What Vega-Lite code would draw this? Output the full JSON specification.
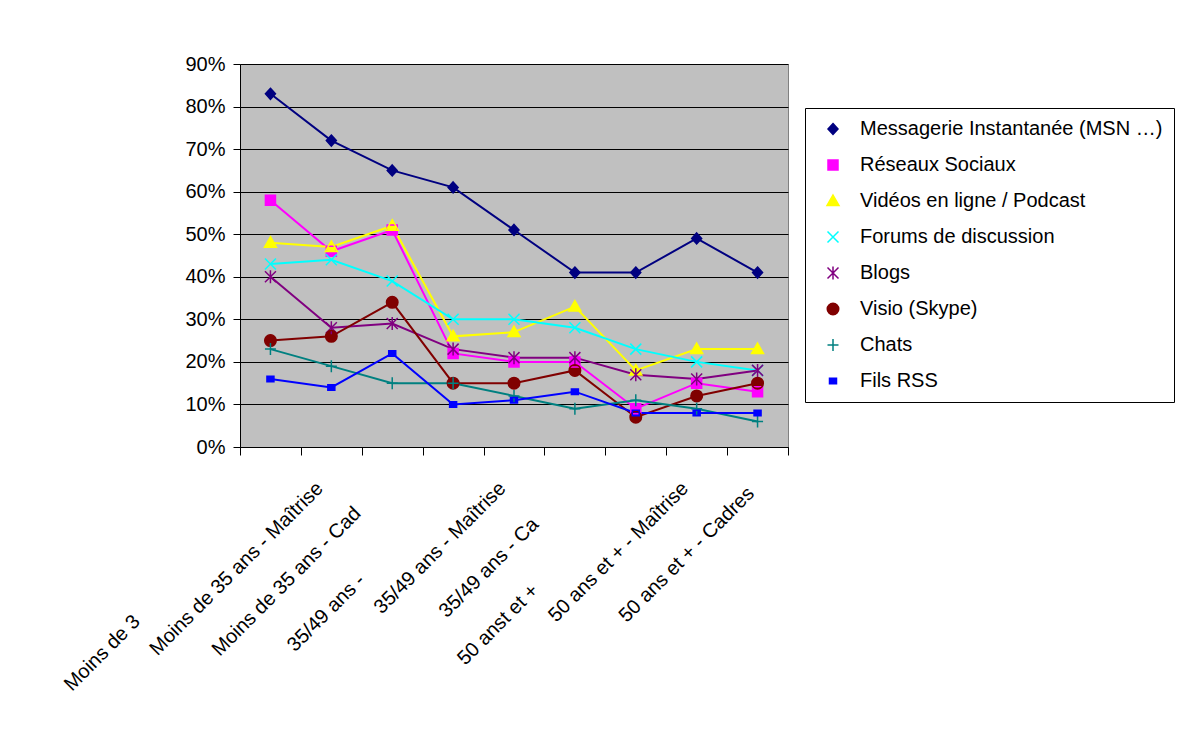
{
  "$schema": "https://vega.github.io/schema/vega-lite/v6.json",
  "autosize": {"type": "none"},
  "width": 548,
  "height": 383,
  "padding": {"left": 240, "top": 64, "right": 414, "bottom": 291},
  "background": "white",
  "data": {
    "values": [
      {"groupe": "Moins de 3", "usage": "Messagerie Instantanée (MSN …)", "part": 0.83},
      {"groupe": "Moins de 35 ans - Maîtrise", "usage": "Messagerie Instantanée (MSN …)", "part": 0.72},
      {"groupe": "Moins de 35 ans - Cad", "usage": "Messagerie Instantanée (MSN …)", "part": 0.65},
      {"groupe": "35/49 ans -", "usage": "Messagerie Instantanée (MSN …)", "part": 0.61},
      {"groupe": "35/49 ans - Maîtrise", "usage": "Messagerie Instantanée (MSN …)", "part": 0.51},
      {"groupe": "35/49 ans - Ca", "usage": "Messagerie Instantanée (MSN …)", "part": 0.41},
      {"groupe": "50 anst et +", "usage": "Messagerie Instantanée (MSN …)", "part": 0.41},
      {"groupe": "50 ans et + - Maîtrise", "usage": "Messagerie Instantanée (MSN …)", "part": 0.49},
      {"groupe": "50 ans et + - Cadres", "usage": "Messagerie Instantanée (MSN …)", "part": 0.41},

      {"groupe": "Moins de 3", "usage": "Réseaux Sociaux", "part": 0.58},
      {"groupe": "Moins de 35 ans - Maîtrise", "usage": "Réseaux Sociaux", "part": 0.46},
      {"groupe": "Moins de 35 ans - Cad", "usage": "Réseaux Sociaux", "part": 0.51},
      {"groupe": "35/49 ans -", "usage": "Réseaux Sociaux", "part": 0.22},
      {"groupe": "35/49 ans - Maîtrise", "usage": "Réseaux Sociaux", "part": 0.20},
      {"groupe": "35/49 ans - Ca", "usage": "Réseaux Sociaux", "part": 0.20},
      {"groupe": "50 anst et +", "usage": "Réseaux Sociaux", "part": 0.09},
      {"groupe": "50 ans et + - Maîtrise", "usage": "Réseaux Sociaux", "part": 0.15},
      {"groupe": "50 ans et + - Cadres", "usage": "Réseaux Sociaux", "part": 0.13},

      {"groupe": "Moins de 3", "usage": "Vidéos en ligne / Podcast", "part": 0.48},
      {"groupe": "Moins de 35 ans - Maîtrise", "usage": "Vidéos en ligne / Podcast", "part": 0.47},
      {"groupe": "Moins de 35 ans - Cad", "usage": "Vidéos en ligne / Podcast", "part": 0.52},
      {"groupe": "35/49 ans -", "usage": "Vidéos en ligne / Podcast", "part": 0.26},
      {"groupe": "35/49 ans - Maîtrise", "usage": "Vidéos en ligne / Podcast", "part": 0.27},
      {"groupe": "35/49 ans - Ca", "usage": "Vidéos en ligne / Podcast", "part": 0.33},
      {"groupe": "50 anst et +", "usage": "Vidéos en ligne / Podcast", "part": 0.18},
      {"groupe": "50 ans et + - Maîtrise", "usage": "Vidéos en ligne / Podcast", "part": 0.23},
      {"groupe": "50 ans et + - Cadres", "usage": "Vidéos en ligne / Podcast", "part": 0.23},

      {"groupe": "Moins de 3", "usage": "Forums de discussion", "part": 0.43},
      {"groupe": "Moins de 35 ans - Maîtrise", "usage": "Forums de discussion", "part": 0.44},
      {"groupe": "Moins de 35 ans - Cad", "usage": "Forums de discussion", "part": 0.39},
      {"groupe": "35/49 ans -", "usage": "Forums de discussion", "part": 0.30},
      {"groupe": "35/49 ans - Maîtrise", "usage": "Forums de discussion", "part": 0.30},
      {"groupe": "35/49 ans - Ca", "usage": "Forums de discussion", "part": 0.28},
      {"groupe": "50 anst et +", "usage": "Forums de discussion", "part": 0.23},
      {"groupe": "50 ans et + - Maîtrise", "usage": "Forums de discussion", "part": 0.20},
      {"groupe": "50 ans et + - Cadres", "usage": "Forums de discussion", "part": 0.18},

      {"groupe": "Moins de 3", "usage": "Blogs", "part": 0.40},
      {"groupe": "Moins de 35 ans - Maîtrise", "usage": "Blogs", "part": 0.28},
      {"groupe": "Moins de 35 ans - Cad", "usage": "Blogs", "part": 0.29},
      {"groupe": "35/49 ans -", "usage": "Blogs", "part": 0.23},
      {"groupe": "35/49 ans - Maîtrise", "usage": "Blogs", "part": 0.21},
      {"groupe": "35/49 ans - Ca", "usage": "Blogs", "part": 0.21},
      {"groupe": "50 anst et +", "usage": "Blogs", "part": 0.17},
      {"groupe": "50 ans et + - Maîtrise", "usage": "Blogs", "part": 0.16},
      {"groupe": "50 ans et + - Cadres", "usage": "Blogs", "part": 0.18},

      {"groupe": "Moins de 3", "usage": "Visio (Skype)", "part": 0.25},
      {"groupe": "Moins de 35 ans - Maîtrise", "usage": "Visio (Skype)", "part": 0.26},
      {"groupe": "Moins de 35 ans - Cad", "usage": "Visio (Skype)", "part": 0.34},
      {"groupe": "35/49 ans -", "usage": "Visio (Skype)", "part": 0.15},
      {"groupe": "35/49 ans - Maîtrise", "usage": "Visio (Skype)", "part": 0.15},
      {"groupe": "35/49 ans - Ca", "usage": "Visio (Skype)", "part": 0.18},
      {"groupe": "50 anst et +", "usage": "Visio (Skype)", "part": 0.07},
      {"groupe": "50 ans et + - Maîtrise", "usage": "Visio (Skype)", "part": 0.12},
      {"groupe": "50 ans et + - Cadres", "usage": "Visio (Skype)", "part": 0.15},

      {"groupe": "Moins de 3", "usage": "Chats", "part": 0.23},
      {"groupe": "Moins de 35 ans - Maîtrise", "usage": "Chats", "part": 0.19},
      {"groupe": "Moins de 35 ans - Cad", "usage": "Chats", "part": 0.15},
      {"groupe": "35/49 ans -", "usage": "Chats", "part": 0.15},
      {"groupe": "35/49 ans - Maîtrise", "usage": "Chats", "part": 0.12},
      {"groupe": "35/49 ans - Ca", "usage": "Chats", "part": 0.09},
      {"groupe": "50 anst et +", "usage": "Chats", "part": 0.11},
      {"groupe": "50 ans et + - Maîtrise", "usage": "Chats", "part": 0.09},
      {"groupe": "50 ans et + - Cadres", "usage": "Chats", "part": 0.06},

      {"groupe": "Moins de 3", "usage": "Fils RSS", "part": 0.16},
      {"groupe": "Moins de 35 ans - Maîtrise", "usage": "Fils RSS", "part": 0.14},
      {"groupe": "Moins de 35 ans - Cad", "usage": "Fils RSS", "part": 0.22},
      {"groupe": "35/49 ans -", "usage": "Fils RSS", "part": 0.10},
      {"groupe": "35/49 ans - Maîtrise", "usage": "Fils RSS", "part": 0.11},
      {"groupe": "35/49 ans - Ca", "usage": "Fils RSS", "part": 0.13},
      {"groupe": "50 anst et +", "usage": "Fils RSS", "part": 0.08},
      {"groupe": "50 ans et + - Maîtrise", "usage": "Fils RSS", "part": 0.08},
      {"groupe": "50 ans et + - Cadres", "usage": "Fils RSS", "part": 0.08}
    ]
  },
  "encoding": {
    "x": {
      "field": "groupe",
      "type": "nominal",
      "sort": null,
      "scale": {"type": "band", "paddingInner": 0, "paddingOuter": 0},
      "axis": {
        "title": null,
        "labelAngle": -45,
        "labelAlign": "right",
        "labelBaseline": "middle",
        "labelFontSize": 20,
        "labelColor": "black",
        "labelLimit": 1000,
        "labelOverlap": false,
        "labelOffset": {
          "condition": [
            {"test": "datum.value == 'Moins de 3'", "value": -134},
            {"test": "datum.value == 'Moins de 35 ans - Cad'", "value": -35},
            {"test": "datum.value == '35/49 ans -'", "value": -92},
            {"test": "datum.value == '35/49 ans - Ca'", "value": -40},
            {"test": "datum.value == '50 anst et +'", "value": -101},
            {"test": "datum.value == '50 ans et + - Cadres'", "value": -7}
          ],
          "value": -12
        },
        "labelPadding": {
          "condition": [
            {"test": "datum.value == 'Moins de 3'", "value": 163},
            {"test": "datum.value == 'Moins de 35 ans - Cad'", "value": 55},
            {"test": "datum.value == '35/49 ans -'", "value": 122},
            {"test": "datum.value == '35/49 ans - Ca'", "value": 66},
            {"test": "datum.value == '50 anst et +'", "value": 132},
            {"test": "datum.value == '50 ans et + - Cadres'", "value": 35}
          ],
          "value": 30
        },
        "tickBand": "extent",
        "tickSize": 8,
        "tickColor": "black",
        "domainColor": "black",
        "grid": false
      }
    },
    "y": {
      "field": "part",
      "type": "quantitative",
      "scale": {"domain": [0, 0.9], "nice": false},
      "axis": {
        "title": null,
        "values": [0, 0.1, 0.2, 0.3, 0.4, 0.5, 0.6, 0.7, 0.8, 0.9],
        "format": ".0%",
        "labelFontSize": 20,
        "labelColor": "black",
        "labelPadding": 8,
        "tickSize": 7,
        "tickColor": "black",
        "domainColor": "black",
        "grid": true,
        "gridColor": "black",
        "gridOpacity": 1,
        "gridWidth": 1
      }
    },
    "color": {
      "field": "usage",
      "type": "nominal",
      "sort": null,
      "scale": {
        "domain": ["Messagerie Instantanée (MSN …)", "Réseaux Sociaux", "Vidéos en ligne / Podcast", "Forums de discussion", "Blogs", "Visio (Skype)", "Chats", "Fils RSS"],
        "range": ["#000080", "#FF00FF", "#FFFF00", "#00FFFF", "#800080", "#800000", "#008080", "#0000FF"]
      },
      "legend": {
        "title": null,
        "orient": "none",
        "legendX": 565,
        "legendY": 44,
        "labelFontSize": 20,
        "labelColor": "black",
        "labelLimit": 1000,
        "padding": 11,
        "rowPadding": 16,
        "symbolSize": 100,
        "symbolOffset": 7,
        "labelOffset": 17,
        "symbolStrokeWidth": 1.5,
        "strokeColor": "black",
        "fillColor": "white",
        "encode": {
          "symbols": {
            "update": {
              "shape": {"signal": "'M-4.3,0H4.3' + ['M0,-1.1L1,0L0,1.1L-1,0Z', 'M-1,-1H1V1H-1Z', 'M0,-1.2L1.2,0.9H-1.2Z', 'M-1.1,-1.1L1.1,1.1M-1.1,1.1L1.1,-1.1', 'M-1.1,-1.1L1.1,1.1M-1.1,1.1L1.1,-1.1M0,-1.3V1.3', 'M-1.15,0A1.15,1.15 0 1,0 1.15,0A1.15,1.15 0 1,0 -1.15,0Z', 'M0,-1.2V1.2M-1.1,0H1.1', 'M-0.7,-0.55H0.7V0.55H-0.7Z'][datum.index]"},
              "stroke": {"signal": "['#000080', '#FF00FF', '#FFFF00', '#00FFFF', '#800080', '#800000', '#008080', '#0000FF'][datum.index]"}
            }
          }
        }
      }
    }
  },
  "layer": [
    {
      "mark": {"type": "line", "strokeWidth": 2}
    },
    {
      "mark": {"type": "point", "filled": true, "size": 100, "opacity": 1},
      "encoding": {
        "shape": {
          "field": "usage",
          "type": "nominal",
          "sort": null,
          "scale": {
            "domain": ["Messagerie Instantanée (MSN …)", "Réseaux Sociaux", "Vidéos en ligne / Podcast", "Forums de discussion", "Blogs", "Visio (Skype)", "Chats", "Fils RSS"],
            "range": [
              "M0,-1.1L1,0L0,1.1L-1,0Z",
              "M-1,-1H1V1H-1Z",
              "M0,-1.2L1.2,0.9H-1.2Z",
              "M-1.1,-1.1L1.1,1.1M-1.1,1.1L1.1,-1.1",
              "M-1.1,-1.1L1.1,1.1M-1.1,1.1L1.1,-1.1M0,-1.3V1.3",
              "M-1.15,0A1.15,1.15 0 1,0 1.15,0A1.15,1.15 0 1,0 -1.15,0Z",
              "M0,-1.2V1.2M-1.1,0H1.1",
              "M-0.7,-0.55H0.7V0.55H-0.7Z"
            ]
          }
        }
      }
    },
    {
      "mark": {"type": "point", "filled": false, "size": 100, "strokeWidth": 1.5, "opacity": 1},
      "encoding": {
        "shape": {"field": "usage", "type": "nominal", "sort": null}
      }
    }
  ],
  "config": {
    "font": "Liberation Sans",
    "view": {"stroke": "#808080", "fill": "#C0C0C0"}
  }
}
